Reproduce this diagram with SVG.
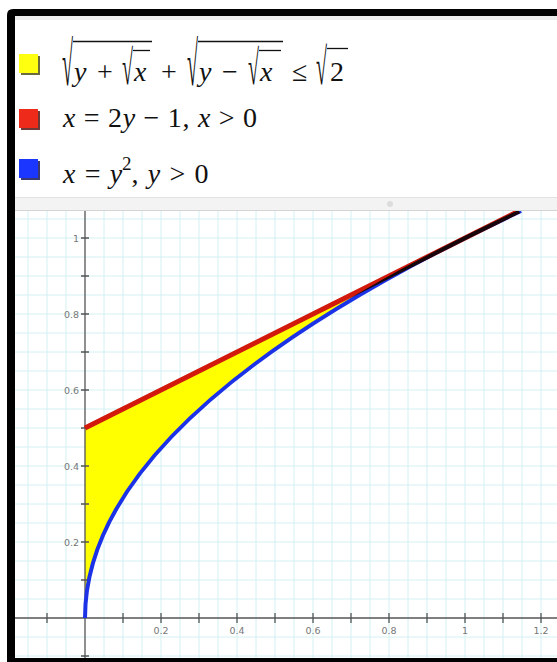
<svg xmlns="http://www.w3.org/2000/svg" width="557" height="662" viewBox="0 0 557 662">
  <style>
    .math { font-family: "Liberation Serif", "Times New Roman", serif; font-size: 28px; fill: #111; }
    .it { font-style: italic; }
    .rad { font-family: "Liberation Serif", "Times New Roman", serif; font-size: 20px; fill: #111; }
    .vin { stroke: #111; stroke-width: 1.3; }
    .grid { stroke: #d3f0f1; stroke-width: 1; fill: none; }
    .axis { stroke: #555; stroke-width: 1.3; fill: none; }
    .tl { font-family: "DejaVu Sans", "Liberation Sans", sans-serif; font-size: 9.5px; fill: #777; }
  </style>
  <defs>
    <clipPath id="plotClip"><rect x="15" y="211" width="542" height="447"/></clipPath>
  </defs>
  <rect x="0" y="0" width="557" height="662" fill="#fff"/>

  <g id="plot" clip-path="url(#plotClip)">
    <rect x="15" y="211" width="542" height="447" fill="#fff"/>
    <path class="grid" d="M28,211V658M47,211V658M66,211V658M104,211V658M123,211V658M142,211V658M161,211V658M180,211V658M199,211V658M218,211V658M237,211V658M256,211V658M275,211V658M294,211V658M313,211V658M332,211V658M351,211V658M370,211V658M389,211V658M408,211V658M427,211V658M446,211V658M465,211V658M484,211V658M503,211V658M522,211V658M541,211V658
      M15,656H557M15,637H557M15,599H557M15,580H557M15,561H557M15,542H557M15,523H557M15,504H557M15,485H557M15,466H557M15,447H557M15,428H557M15,409H557M15,390H557M15,371H557M15,352H557M15,333H557M15,314H557M15,295H557M15,276H557M15,257H557M15,238H557M15,219H557"/>
    <path id="region" d="M85,428 L465,238 Q85,428 85,618 Z" fill="#ffff00"/>
    <g id="axes">
      <path class="axis" d="M15,618H557M85,211V658"/>
      <path class="axis" d="M47,613V623M123,613V623M161,613V623M199,613V623M237,613V623M275,613V623M313,613V623M351,613V623M389,613V623M427,613V623M465,613V623M503,613V623M541,613V623
        M81,656H89M81,580H89M81,542H89M81,504H89M81,466H89M81,428H89M81,390H89M81,352H89M81,314H89M81,276H89M81,238H89"/>
      <g class="tl" text-anchor="end">
        <text x="79" y="241.5">1</text>
        <text x="79" y="317.5">0.8</text>
        <text x="79" y="393.5">0.6</text>
        <text x="79" y="469.5">0.4</text>
        <text x="79" y="545.5">0.2</text>
      </g>
      <g class="tl" text-anchor="middle">
        <text x="161" y="634">0.2</text>
        <text x="237" y="634">0.4</text>
        <text x="313" y="634">0.6</text>
        <text x="389" y="634">0.8</text>
        <text x="465" y="634">1</text>
        <text x="541" y="634">1.2</text>
      </g>
    </g>
    <g id="curves" style="isolation:isolate">
      <path id="redLine" d="M85,428 L519,211" stroke="#d21a0c" stroke-width="5" fill="none"/>
      <path id="blueCurve" d="M85,618 Q85,414.5 521,211" stroke="#1c32e6" stroke-width="4" fill="none" style="mix-blend-mode:multiply"/>
    </g>
  </g>

  <g id="legend">
    <rect x="15" y="16" width="542" height="4" fill="#ececec"/>
    <g id="item1">
      <rect x="21" y="56" width="19" height="19" fill="#6b6b40"/>
      <rect x="19" y="54" width="19" height="19" fill="#ffff10"/>
      <text class="rad" transform="translate(62,85) scale(1,3.1)">√</text>
      <line class="vin" x1="73" y1="41.5" x2="152" y2="41.5"/>
      <text class="math it" x="74" y="81">y</text>
      <text class="math" x="97" y="81">+</text>
      <text class="rad" transform="translate(122,84) scale(1,2.43)">√</text>
      <line class="vin" x1="133" y1="50.5" x2="150" y2="50.5"/>
      <text class="math it" x="134" y="81">x</text>
      <text class="math" x="161" y="81">+</text>
      <text class="rad" transform="translate(187,85) scale(1,3.1)">√</text>
      <line class="vin" x1="198" y1="41.5" x2="283" y2="41.5"/>
      <text class="math it" x="199" y="81">y</text>
      <text class="math" x="222" y="81">−</text>
      <text class="rad" transform="translate(248,84) scale(1,2.43)">√</text>
      <line class="vin" x1="259" y1="50.5" x2="281" y2="50.5"/>
      <text class="math it" x="260" y="81">x</text>
      <text class="math" x="292" y="81">≤</text>
      <text class="rad" transform="translate(316,84) scale(1,2.57)">√</text>
      <line class="vin" x1="327" y1="48.5" x2="348" y2="48.5"/>
      <text class="math" x="330" y="81">2</text>
    </g>
    <g id="item2">
      <rect x="21" y="111" width="19" height="19" fill="#6b3a36"/>
      <rect x="19" y="109" width="19" height="19" fill="#ee2a1a"/>
      <text class="math" x="63" y="127" textLength="194" lengthAdjust="spacing"><tspan class="it">x</tspan> = 2<tspan class="it">y</tspan> − 1, <tspan class="it">x</tspan> &gt; 0</text>
    </g>
    <g id="item3">
      <rect x="21" y="161" width="19" height="19" fill="#3a3a70"/>
      <rect x="19" y="159" width="19" height="19" fill="#1a36ff"/>
      <text class="math" x="63" y="183" word-spacing="2.2"><tspan class="it">x</tspan> = <tspan class="it">y</tspan><tspan font-size="19" dy="-13">2</tspan><tspan dy="13">, </tspan><tspan class="it">y</tspan> &gt; 0</text>
    </g>
  </g>

  <g id="bar">
    <rect x="15" y="197" width="542" height="14" fill="#f3f3f3"/>
    <line x1="15" y1="197.5" x2="557" y2="197.5" stroke="#e2e2e2"/>
    <line x1="15" y1="210.5" x2="557" y2="210.5" stroke="#d4d4d4"/>
    <circle cx="390" cy="204" r="3" fill="#dcdcdc"/>
  </g>

  <g id="frame" fill="#000">
    <path d="M7,662 L7,15 Q7,9 13,9 L557,9 L557,16 L15,16 L15,662 Z"/>
    <rect x="7" y="658" width="550" height="4"/>
  </g>
</svg>
